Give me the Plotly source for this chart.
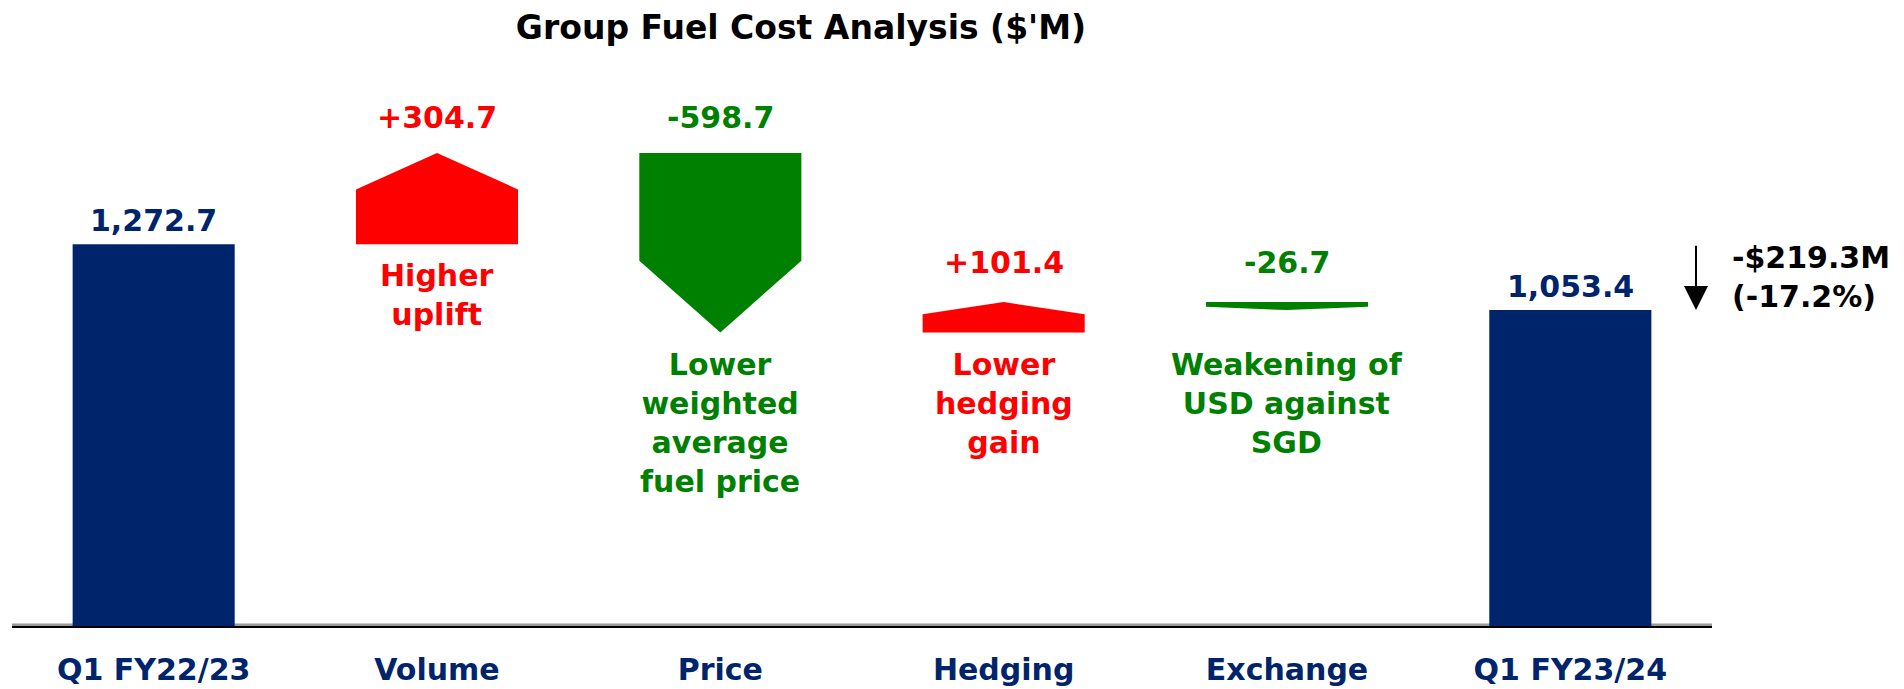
import plotly.graph_objects as go

# ---- data ----
categories = ["Q1 FY22/23", "Volume", "Price", "Hedging", "Exchange", "Q1 FY23/24"]
start_total = 1272.7
deltas = [304.7, -598.7, 101.4, -26.7]
end_total = 1053.4
delta_labels = ["+304.7", "-598.7", "+101.4", "-26.7"]
total_labels = ["1,272.7", "1,053.4"]
descriptions = ["Higher<br>uplift", "Lower<br>weighted<br>average<br>fuel price",
                "Lower<br>hedging<br>gain", "Weakening of<br>USD against<br>SGD"]
title_text = "Group Fuel Cost Analysis ($'M)"

# ---- style ----
NAVY = "#00246B"
RED = "#FF0000"
GREEN = "#008000"
FONT = "DejaVu Sans"
FS = 30
BAR_W = 0.572
HEAD = 0.4
W, H = 1888, 681  # page body adds an 8px offset

fig = go.Figure()

# totals
fig.add_trace(go.Bar(x=[0, 5], y=[start_total, end_total], width=BAR_W,
                     marker=dict(color=NAVY, line=dict(width=0)), hoverinfo="skip"))

# arrow-shaped deltas
level = start_total
delta_geo = []
for i, d in enumerate(deltas):
    xc = i + 1
    lo_x, hi_x = xc - BAR_W / 2, xc + BAR_W / 2
    a, b = level, level + d
    h = abs(d) * HEAD
    xs = [lo_x, hi_x, hi_x, xc, lo_x, lo_x]
    if d > 0:
        ys = [a, a, b - h, b, b - h, a]
        col = RED
        top, bottom = b, a
    else:
        ys = [a, a, b + h, b, b + h, a]
        col = GREEN
        top, bottom = a, b
    fig.add_trace(go.Scatter(x=xs, y=ys, fill="toself", fillcolor=col, mode="lines",
                             line=dict(width=0, color=col), hoverinfo="skip"))
    delta_geo.append((xc, top, bottom, col))
    level = b

# value labels for totals
for xc, val, lab in [(0, start_total, total_labels[0]), (5, end_total, total_labels[1])]:
    fig.add_annotation(x=xc, y=val, text=f"<b>{lab}</b>", showarrow=False,
                       yanchor="middle", yshift=24,
                       font=dict(family=FONT, size=FS, color=NAVY))

# value labels and descriptions for deltas
val_shift = [35, 35, 40, 40]
desc_shift = [-12, -13, -13, -35]
for (xc, top, bottom, col), lab, desc, vs, ds in zip(delta_geo, delta_labels, descriptions, val_shift, desc_shift):
    fig.add_annotation(x=xc, y=top, text=f"<b>{lab}</b>", showarrow=False,
                       yanchor="middle", yshift=vs,
                       font=dict(family=FONT, size=FS, color=col))
    fig.add_annotation(x=xc, y=bottom, text=f"<b>{desc}</b>", showarrow=False,
                       yanchor="top", yshift=ds, align="center",
                       font=dict(family=FONT, size=FS, color=col))

# overall change arrow + text
change = end_total - start_total
pct = change / start_total * 100
fig.add_annotation(x=5.4435, y=end_total, ax=5.4435, ay=start_total,
                   xref="x", yref="y", axref="x", ayref="y", text="",
                   showarrow=True, arrowhead=2, arrowsize=2.4, arrowwidth=2,
                   arrowcolor="black", standoff=0, startstandoff=0)
fig.add_annotation(x=1.0106, xref="paper", y=(start_total + end_total) / 2, yref="y",
                   text=f"<b>-${abs(change):.1f}M<br>({pct:.1f}%)</b>",
                   showarrow=False, xanchor="left", yanchor="middle", align="left",
                   font=dict(family=FONT, size=FS, color="black"))

# axis baseline shadow
fig.add_shape(type="line", xref="paper", yref="y", x0=0, x1=1, y0=0, y1=0,
              line=dict(color="#9a9a9a", width=5), layer="below")

fig.update_layout(
    width=W, height=H,
    margin=dict(l=4, r=184, t=92, b=63, autoexpand=False),
    paper_bgcolor="white", plot_bgcolor="white",
    showlegend=False,
    title=dict(text=f"<b>{title_text}</b>", x=793 / W, xref="container", xanchor="center",
               y=1 - 19 / H, yref="container", yanchor="middle",
               font=dict(family=FONT, size=33, color="black")),
    xaxis=dict(range=[-0.5, 5.5], tickmode="array", tickvals=list(range(6)),
               ticktext=[f"<b>{c}</b>" for c in categories],
               showgrid=False, zeroline=False, showline=True, linecolor="black", linewidth=2,
               ticks="", ticklabelstandoff=16, automargin=False,
               tickfont=dict(family=FONT, size=FS, color=NAVY), fixedrange=True),
    yaxis=dict(range=[0, 526 / (381.7 / 1272.7)], visible=False, showgrid=False,
               zeroline=False, fixedrange=True, automargin=False),
)

fig.write_html("out.html")
